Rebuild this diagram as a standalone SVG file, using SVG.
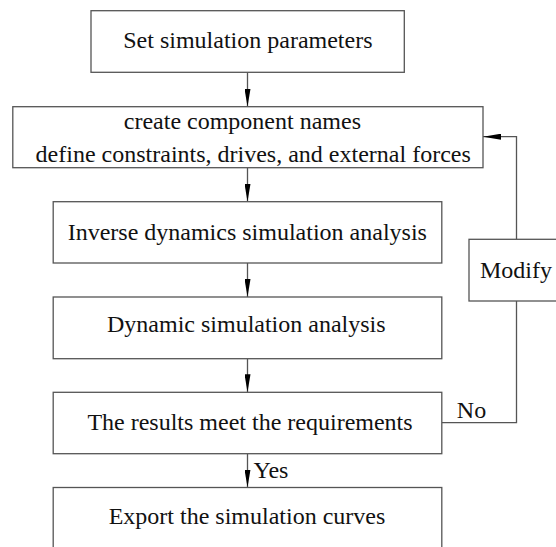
<svg xmlns="http://www.w3.org/2000/svg" width="556" height="547" viewBox="0 0 556 547">
  <style>
    .box { fill: #ffffff; stroke: #555555; stroke-width: 1.3; }
    .lbl { font-family: 'Liberation Serif', 'Times New Roman', Times, serif; font-size: 24px; fill: #111111; text-anchor: middle; }
    .edge { fill: none; stroke: #555555; stroke-width: 1.3; }
  </style>
  <defs>
    <marker id="arrow" viewBox="0 0 18 6" refX="18" refY="3" markerWidth="18" markerHeight="6" markerUnits="userSpaceOnUse" orient="auto">
      <path d="M0,0 L18,3 L0,6 Z" fill="#000000"/>
    </marker>
  </defs>
  <rect width="556" height="547" fill="#ffffff"/>

  <g id="connectors">
    <line class="edge" x1="247.5" y1="72.3" x2="247.5" y2="106.7" marker-end="url(#arrow)"/>
    <line class="edge" x1="247.5" y1="167.7" x2="247.5" y2="201.7" marker-end="url(#arrow)"/>
    <line class="edge" x1="247.5" y1="263" x2="247.5" y2="297" marker-end="url(#arrow)"/>
    <line class="edge" x1="247.5" y1="358.7" x2="247.5" y2="392.3" marker-end="url(#arrow)"/>
    <line class="edge" x1="247.5" y1="453.7" x2="247.5" y2="487.5" marker-end="url(#arrow)"/>
    <polyline class="edge" points="442,422.7 516.5,422.7 516.5,301"/>
    <polyline class="edge" points="516.5,239.3 516.5,136.7 483,136.7" marker-end="url(#arrow)"/>
    <text class="lbl" font-family="Liberation Serif, serif" x="271" y="478.3">Yes</text>
    <text class="lbl" font-family="Liberation Serif, serif" x="471.5" y="417.7">No</text>
  </g>

  <g id="set-params">
    <rect class="box" x="91" y="10.7" width="313.3" height="61.6"/>
    <text class="lbl" font-family="Liberation Serif, serif" x="247.9" y="48.3">Set simulation parameters</text>
  </g>

  <g id="define-model">
    <rect class="box" x="12.8" y="106.7" width="470.2" height="61"/>
    <text class="lbl" font-family="Liberation Serif, serif" x="242.4" y="129.3">create component names</text>
    <text class="lbl" font-family="Liberation Serif, serif" x="253.2" y="161.7">define constraints, drives, and external forces</text>
  </g>

  <g id="inverse-dynamics">
    <rect class="box" x="53.2" y="201.7" width="388.6" height="61.3"/>
    <text class="lbl" font-family="Liberation Serif, serif" x="247.3" y="240">Inverse dynamics simulation analysis</text>
  </g>

  <g id="dynamic-analysis">
    <rect class="box" x="53.2" y="297" width="388.6" height="61.7"/>
    <text class="lbl" font-family="Liberation Serif, serif" x="246.3" y="331.7">Dynamic simulation analysis</text>
  </g>

  <g id="check-results">
    <rect class="box" x="53.2" y="392.3" width="388.6" height="61.4"/>
    <text class="lbl" font-family="Liberation Serif, serif" x="250" y="430">The results meet the requirements</text>
  </g>

  <g id="export-curves">
    <rect class="box" x="53.2" y="487.5" width="388.6" height="70"/>
    <text class="lbl" font-family="Liberation Serif, serif" x="247" y="524">Export the simulation curves</text>
  </g>

  <g id="modify">
    <rect class="box" x="469" y="239.3" width="92" height="61.7"/>
    <text class="lbl" font-family="Liberation Serif, serif" x="516" y="278">Modify</text>
  </g>
</svg>
